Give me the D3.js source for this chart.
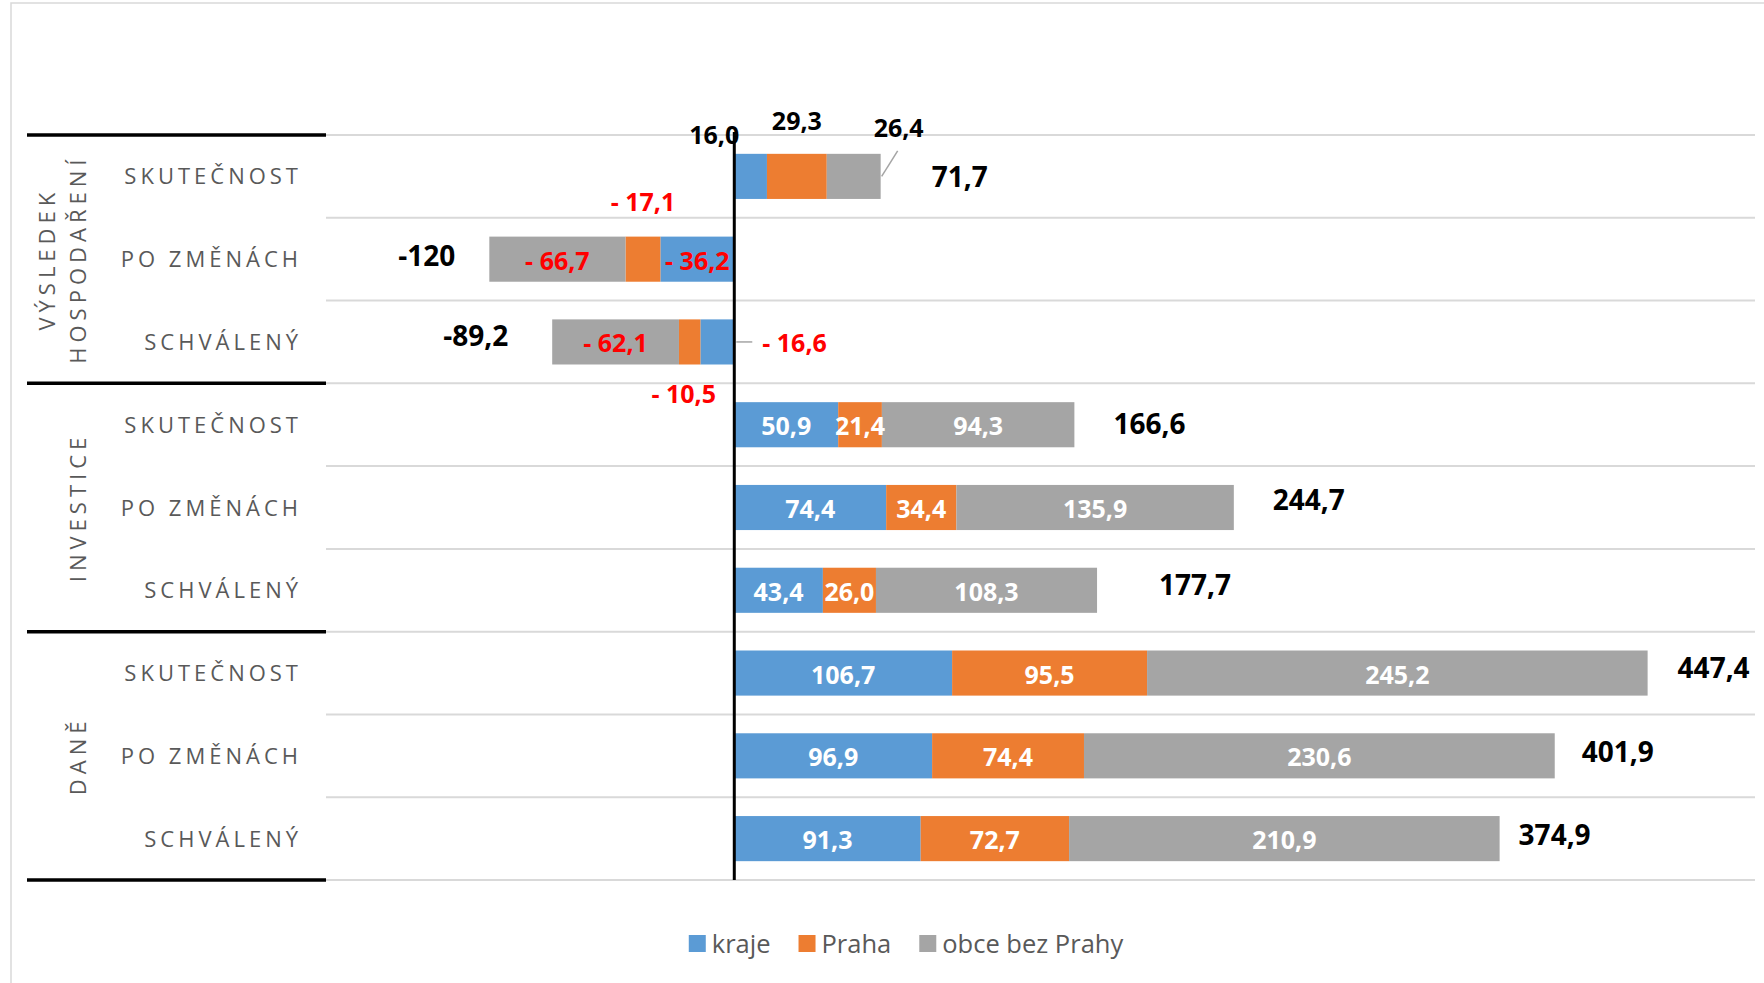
<!DOCTYPE html>
<html>
<head>
<meta charset="utf-8">
<script src="https://cdn.jsdelivr.net/npm/d3@7/dist/d3.min.js"></script>
<style>
  html, body { margin: 0; padding: 0; background: #fff; }
  svg { display: block; font-family: "Open Sans", "Noto Sans", sans-serif; }
</style>
</head>
<body>
<svg id="chart" width="1764" height="983"></svg>
<script>
// ---------------- DATA ----------------
const categories = ["SKUTEČNOST", "PO ZMĚNÁCH", "SCHVÁLENÝ"];
const groups = [["VÝSLEDEK", "HOSPODAŘENÍ"], ["INVESTICE"], ["DANĚ"]];
const seriesNames = ["kraje", "Praha", "obce bez Prahy"];
// rows top to bottom: Výsledek (skut., po změnách, schválený), Investice (...), Daně (...)
const kraje = [16.0, -36.2, -16.6, 50.9, 74.4, 43.4, 106.7, 96.9, 91.3];
const praha = [29.3, -17.1, -10.5, 21.4, 34.4, 26.0, 95.5, 74.4, 72.7];
const obce  = [26.4, -66.7, -62.1, 94.3, 135.9, 108.3, 245.2, 230.6, 210.9];
const totals = [71.7, -120, -89.2, 166.6, 244.7, 177.7, 447.4, 401.9, 374.9];
const totalLabels = ["71,7", "-120", "-89,2", "166,6", "244,7", "177,7", "447,4", "401,9", "374,9"];

// ---------------- LAYOUT / STYLE ----------------
const colors = ["#5B9BD5", "#ED7D31", "#A5A5A5"];
const totalGap = [51, 34, 44, 39, 39, 62, 30, 27, 19];
const totalLift = [0, 4, 7, 2, 9, 6, 6, 5, 5];
const svg = d3.select("#chart");
const W = 1764, H = 983;
const plotLeft = 326, plotRight = 1755, plotTop = 135, plotBottom = 880;

const x = d3.scaleLinear().domain([-200, 500]).range([plotLeft, plotRight]);
const rows = d3.range(totals.length);
const y = d3.scaleBand().domain(rows).range([plotTop, plotBottom])
  .paddingInner(0.455).paddingOuter(0.2275);
const step = y.step();

// outer chart border (cropped)
svg.append("path")
  .attr("d", `M11,${H + 5} L11,3 L${W + 5},3`)
  .attr("fill", "none").attr("stroke", "#d9d9d9").attr("stroke-width", 1.5);

// horizontal gridlines
const boundaries = d3.range(totals.length + 1);
svg.append("g").selectAll("line").data(boundaries).join("line")
  .attr("x1", plotLeft).attr("x2", plotRight)
  .attr("y1", d => plotTop + d * step).attr("y2", d => plotTop + d * step)
  .attr("stroke", "#d9d9d9").attr("stroke-width", 2);

// group separators (black, in label area)
svg.append("g").selectAll("line").data([0, 3, 6, 9]).join("line")
  .attr("x1", 27).attr("x2", plotLeft)
  .attr("y1", d => plotTop + d * step).attr("y2", d => plotTop + d * step)
  .attr("stroke", "#000").attr("stroke-width", 3.5);

// stacked bars
const seriesVals = [kraje, praha, obce];
const segs = [];
rows.forEach(i => {
  let pos = 0, neg = 0;
  seriesVals.forEach((arr, s) => {
    const v = arr[i];
    let a, b;
    if (v >= 0) { a = pos; b = pos + v; pos = b; }
    else { a = neg; b = neg + v; neg = b; }
    segs.push({ row: i, s, v, a, b });
  });
});

svg.append("g").selectAll("rect").data(segs).join("rect")
  .attr("x", d => x(Math.min(d.a, d.b)))
  .attr("width", d => Math.abs(x(d.b) - x(d.a)))
  .attr("y", d => y(d.row))
  .attr("height", y.bandwidth())
  .attr("fill", d => colors[d.s]);

// zero axis
svg.append("line")
  .attr("x1", x(0)).attr("x2", x(0))
  .attr("y1", plotTop - 3).attr("y2", plotBottom)
  .attr("stroke", "#000").attr("stroke-width", 3);

// segment labels
const fmt = v => (v < 0 ? "- " : "") + Math.abs(v).toFixed(1).replace(".", ",");
const labelG = svg.append("g").attr("font-weight", 700).attr("font-size", 25);

segs.forEach(d => {
  const cx = (x(d.a) + x(d.b)) / 2;
  const top = y(d.row), bot = y(d.row) + y.bandwidth(), cy = top + y.bandwidth() / 2;
  const key = d.row + "-" + d.s;
  let tx = cx, ty = cy, anchor = "middle", fill = "#fff", base = "central";
  if (d.row === 0) {
    fill = "#000"; base = "auto";
    if (d.s === 0) { tx = x(0) + 5; ty = top - 10; anchor = "end"; }
    if (d.s === 1) { ty = top - 24; }
    if (d.s === 2) {
      const ex = x(d.b);
      tx = ex + 18; ty = top - 17;
      labelG.append("line").attr("x1", ex + 1).attr("y1", cy)
        .attr("x2", ex + 17).attr("y2", top - 3)
        .attr("stroke", "#a5a5a5").attr("stroke-width", 1.5);
    }
  } else if (d.row === 1 || d.row === 2) {
    fill = "#FF0000";
    if (key === "1-1") { ty = top - 26; base = "auto"; }
    if (key === "2-1") { tx = cx - 6; ty = bot + 38; base = "auto"; }
    if (key === "2-0") {
      tx = x(0) + 28; anchor = "start";
      labelG.append("line").attr("x1", x(0) + 2).attr("y1", cy)
        .attr("x2", x(0) + 18).attr("y2", cy)
        .attr("stroke", "#a5a5a5").attr("stroke-width", 1.5);
    }
  }
  labelG.append("text")
    .attr("x", tx).attr("y", ty)
    .attr("text-anchor", anchor)
    .attr("dominant-baseline", base)
    .attr("dy", base === "central" ? "0.02em" : null)
    .attr("fill", fill)
    .text(fmt(d.v));
});

// total labels
svg.append("g").attr("font-weight", 700).attr("font-size", 28).attr("fill", "#000")
  .selectAll("text").data(rows).join("text")
  .attr("x", i => totals[i] >= 0 ? x(totals[i]) + totalGap[i] : x(totals[i]) - totalGap[i])
  .attr("y", i => y(i) + y.bandwidth() / 2 - totalLift[i])
  .attr("text-anchor", i => totals[i] >= 0 ? "start" : "end")
  .attr("dominant-baseline", "central")
  .text(i => totalLabels[i]);

// category labels
svg.append("g").attr("font-size", 22).attr("fill", "#595959")
  .style("letter-spacing", "4px")
  .selectAll("text").data(rows).join("text")
  .attr("x", 302)
  .attr("y", i => y(i) + y.bandwidth() / 2 - 1)
  .attr("text-anchor", "end")
  .attr("dominant-baseline", "central")
  .text(i => categories[i % 3]);

// group labels (rotated)
const gl = svg.append("g").attr("font-size", 22).attr("fill", "#595959")
  .style("letter-spacing", "5px");
groups.forEach((lines, g) => {
  const cy = plotTop + (g * 3 + 1.5) * step;
  lines.forEach((t, k) => {
    const lx = lines.length === 2 ? (k === 0 ? 46 : 77) : 77;
    gl.append("text")
      .attr("transform", `translate(${lx},${cy}) rotate(-90)`)
      .attr("text-anchor", "middle")
      .attr("dominant-baseline", "central")
      .text(t);
  });
});

// legend
const leg = svg.append("g").attr("font-size", 25.5).attr("fill", "#595959");
let lxPos = 0;
seriesNames.forEach((n, i) => {
  const g = leg.append("g");
  g.append("rect").attr("x", 0).attr("y", -8).attr("width", 17).attr("height", 17).attr("fill", colors[i]);
  const t = g.append("text").attr("x", 23).attr("y", 0).attr("dominant-baseline", "central").text(n);
  const w = 23 + t.node().getComputedTextLength();
  g.attr("transform", `translate(${lxPos},0)`);
  lxPos += w + 28;
});
const legW = lxPos - 28;
leg.attr("transform", `translate(${906 - legW / 2},943)`);
</script>
</body>
</html>
